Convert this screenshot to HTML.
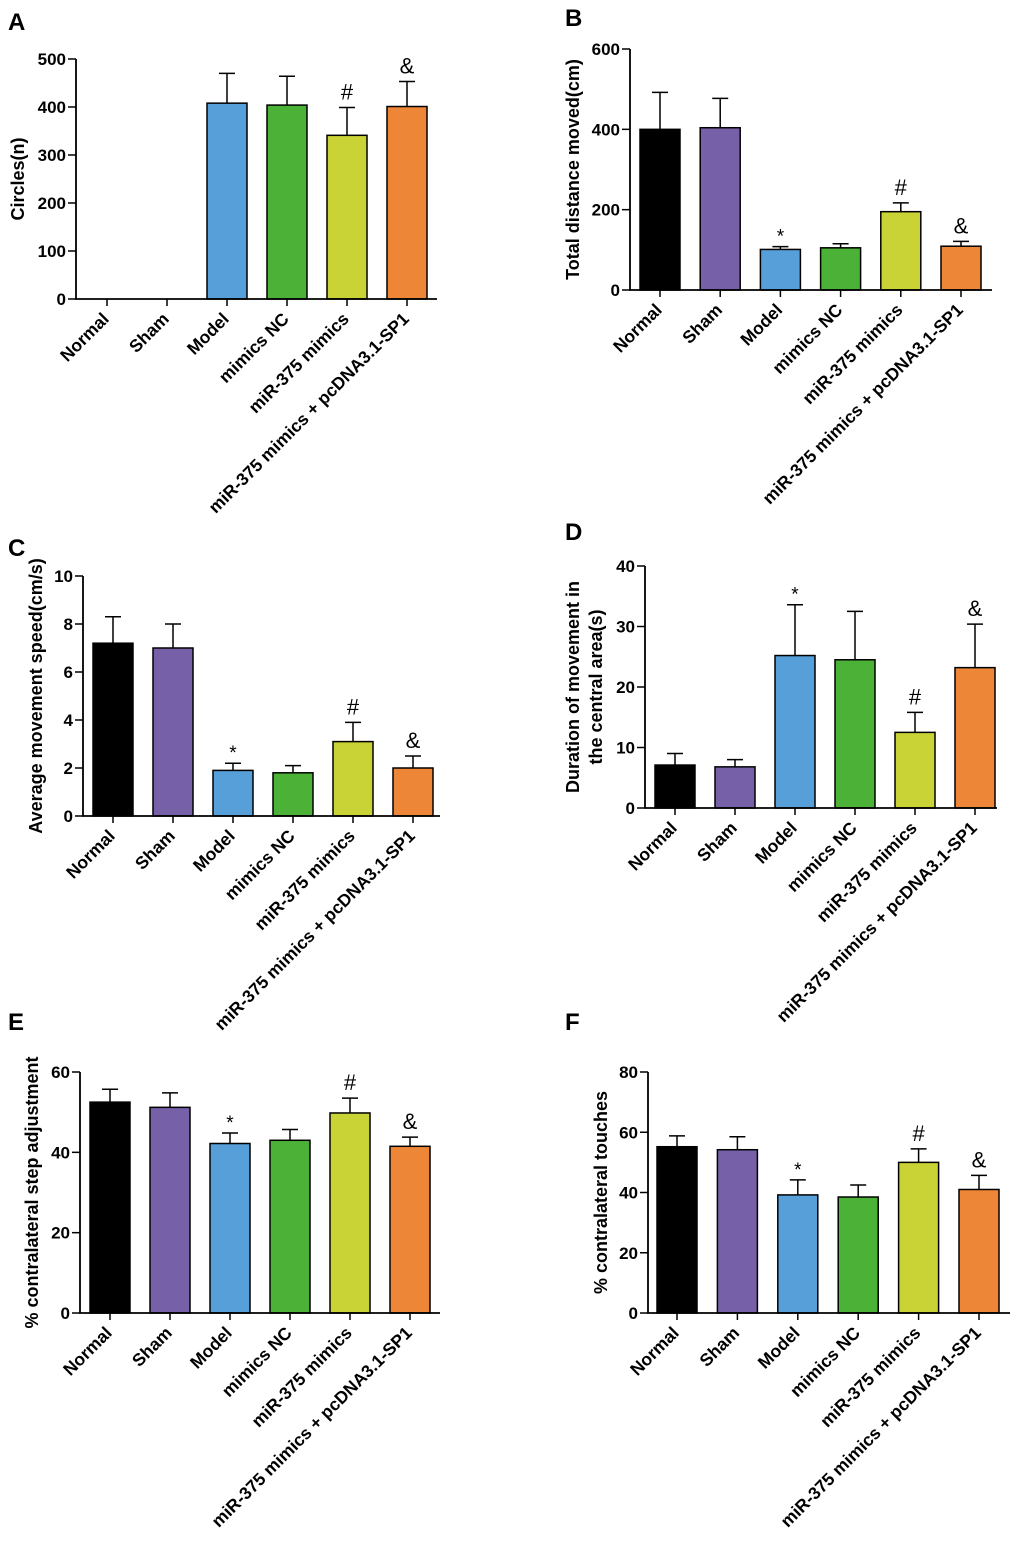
<!DOCTYPE html>
<html><head><meta charset="utf-8">
<style>
html,body{margin:0;padding:0;background:#fff;}
svg{display:block;font-family:"Liberation Sans",Arial,sans-serif;}
</style></head>
<body>
<svg id="fig" width="1020" height="1544" viewBox="0 0 1020 1544" xmlns="http://www.w3.org/2000/svg"></svg>
<script>
const categories = ["Normal","Sham","Model","mimics NC","miR-375 mimics","miR-375 mimics + pcDNA3.1-SP1"];
const colors = ["#000000","#7660a8","#569fd9","#4cb137","#c9d336","#ee8638"];
const valuesA = [0,0,408,404,341,401];
const errA    = [0,0,470,464,399,453];
const marksA  = ["","","","","#","&"];
const ticksA  = [0,100,200,300,400,500];
const valuesB = [400,404,101,105,195,109];
const errB    = [492,477,108,115,217,121];
const marksB  = ["","","*","","#","&"];
const ticksB  = [0,200,400,600];
const valuesC = [7.2,7.0,1.9,1.8,3.1,2.0];
const errC    = [8.3,8.0,2.2,2.1,3.9,2.5];
const marksC  = ["","","*","","#","&"];
const ticksC  = [0,2,4,6,8,10];
const valuesD = [7.1,6.8,25.2,24.5,12.5,23.2];
const errD    = [9.0,8.0,33.6,32.5,15.8,30.4];
const marksD  = ["","","*","","#","&"];
const ticksD  = [0,10,20,30,40];
const valuesE = [52.5,51.2,42.2,43.0,49.8,41.5];
const errE    = [55.7,54.8,44.8,45.7,53.5,43.8];
const marksE  = ["","","*","","#","&"];
const ticksE  = [0,20,40,60];
const valuesF = [55.2,54.2,39.2,38.5,50.0,41.0];
const errF    = [58.8,58.5,44.2,42.5,54.5,45.7];
const marksF  = ["","","*","","#","&"];
const ticksF  = [0,20,40,60,80];

const NS="http://www.w3.org/2000/svg";
const svg=document.getElementById('fig');
function mk(tag,attrs,parent,txt){const e=document.createElementNS(NS,tag);for(const k in attrs)e.setAttribute(k,attrs[k]);if(txt!==undefined)e.textContent=txt;(parent||svg).appendChild(e);return e;}

function panel(cfg,vals,errs,marks,ticks){
  const g=mk('g',{});
  
  
  const maxV=ticks[ticks.length-1];
  const y=v=>cfg.y0-(v/maxV)*(cfg.y0-cfg.yTop);
  const bx=i=>cfg.b0+i*cfg.step;
  const letter=mk('text',{x:cfg.lx,y:cfg.ly,'font-size':24,'font-weight':'bold'},g,cfg.letter);
  
  
  vals.forEach((v,i)=>{
    const x=bx(i),cx=x+20;
    if(v>0){
      const r=mk('rect',{x:x,y:y(v),width:40,height:cfg.y0-y(v),fill:colors[i],stroke:'#000','stroke-width':1.5},g);
      
      
      const e=mk('path',{d:`M${cx},${y(v)}V${y(errs[i])}M${cx-8},${y(errs[i])}H${cx+8}`,stroke:'#000','stroke-width':1.5,fill:'none'},g);
      
      
    }
    if(marks[i]){
      const m=mk('text',{x:cx,y:y(errs[i])-(marks[i]==='*'?4:8),'font-size':marks[i]==='*'?19:22,'text-anchor':'middle'},g,marks[i]);
      
      
    }
    mk('line',{x1:cx,x2:cx,y1:cfg.y0,y2:cfg.y0+7,stroke:'#000','stroke-width':1.5},g);
    const t=mk('text',{x:0,y:0,'font-size':17.5,'font-weight':'bold','text-anchor':'end',transform:`translate(${cx+3},${cfg.y0+21}) rotate(-45)`},g,categories[i]);
    
    
  });
  mk('path',{d:`M${cfg.ax},${cfg.yTop}V${cfg.y0}H${cfg.xEnd}`,stroke:'#000','stroke-width':1.8,fill:'none'},g);
  ticks.forEach(tv=>{
    mk('line',{x1:cfg.ax-8,x2:cfg.ax,y1:y(tv),y2:y(tv),stroke:'#000','stroke-width':1.5},g);
    const tl=mk('text',{x:cfg.ax-10,y:y(tv)+6,'font-size':17,'font-weight':'bold','text-anchor':'end'},g,String(tv));
    
    
  });
  const midY=(cfg.y0+cfg.yTop)/2;
  cfg.title.forEach((line,k)=>{
    const yt=mk('text',{x:0,y:0,'font-size':18,'font-weight':'bold','text-anchor':'middle',transform:`translate(${cfg.tx+k*23},${midY}) rotate(-90)`},g,line);
    
    
  });
}
panel({letter:'A',lx:8,ly:30,ax:76,y0:299,yTop:59,b0:87,step:60,xEnd:437,tx:24,title:['Circles(n)']},valuesA,errA,marksA,ticksA);
panel({letter:'B',lx:565,ly:26,ax:630,y0:290,yTop:49,b0:640,step:60.2,xEnd:992,tx:579,title:['Total distance moved(cm)']},valuesB,errB,marksB,ticksB);
panel({letter:'C',lx:8,ly:556,ax:83,y0:816,yTop:576,b0:93,step:60,xEnd:440,tx:42,title:['Average movement speed(cm/s)']},valuesC,errC,marksC,ticksC);
panel({letter:'D',lx:565,ly:540,ax:645,y0:808,yTop:566,b0:655,step:60,xEnd:997,tx:579,title:['Duration of movement in','the central area(s)']},valuesD,errD,marksD,ticksD);
panel({letter:'E',lx:8,ly:1030,ax:80,y0:1313,yTop:1072,b0:90,step:60,xEnd:440,tx:38,title:['% contralateral step adjustment']},valuesE,errE,marksE,ticksE);
panel({letter:'F',lx:565,ly:1030,ax:648,y0:1313,yTop:1072,b0:657,step:60.4,xEnd:1010,tx:607,title:['% contralateral touches']},valuesF,errF,marksF,ticksF);
</script>
</body></html>
